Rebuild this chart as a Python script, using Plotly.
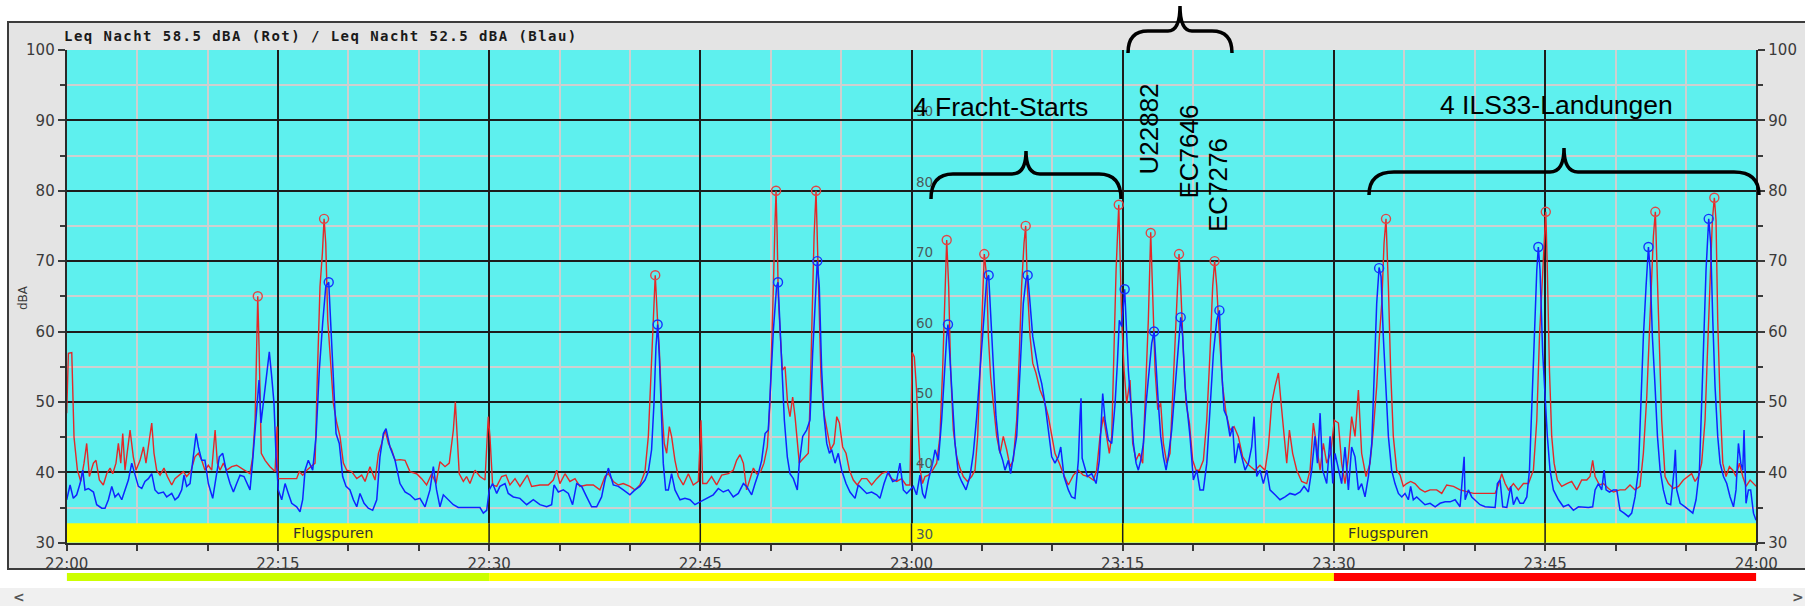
import plotly.graph_objects as go

W, H = 1805, 606

# ---------------- data (minutes after 22:00, dBA) ----------------
red_t = [0, 0.12, 0.36, 0.52, 0.76, 1.0, 1.23, 1.42, 1.61, 1.9, 2.08, 2.32, 2.6, 2.84, 3.08, 3.27, 3.5, 3.67, 3.84, 3.98,
         4.14, 4.26, 4.5, 4.73, 4.92, 5.21, 5.45, 5.63, 5.87, 6.04, 6.2, 6.39, 6.63, 6.91, 7.15, 7.46, 7.69, 8.0, 8.29, 8.52,
         8.81, 9.11, 9.35, 9.59, 9.82, 10.06, 10.3, 10.54, 10.7, 10.89, 11.13, 11.36, 11.72, 12.07, 12.43, 12.78, 13.02, 13.21,
         13.38, 13.5, 13.57, 13.66, 13.74, 13.82, 14.09, 14.44, 14.8, 14.94, 15.0, 15.39, 15.86, 16.33, 16.52, 16.76, 17.05,
         17.33, 17.64, 17.8, 17.99, 18.16, 18.28, 18.4, 18.54, 18.75, 18.94, 19.18, 19.41, 19.65, 19.89, 20.24, 20.6, 20.95,
         21.19, 21.54, 21.9, 22.14, 22.37, 22.61, 22.85, 23.08, 23.32, 23.67, 24.03, 24.38, 24.85, 25.21, 25.56, 25.92, 26.23,
         26.51, 26.87, 27.17, 27.46, 27.6, 27.74, 27.88, 28.17, 28.4, 28.64, 29.0, 29.35, 29.71, 29.94, 30.06, 30.25, 30.54,
         30.89, 31.2, 31.48, 31.84, 32.19, 32.71, 33.02, 33.61, 34.2, 34.56, 34.8, 35.03, 35.39, 35.74, 36.1, 36.45, 36.93,
         37.4, 37.87, 38.23, 38.47, 38.82, 39.18, 39.53, 40.0, 40.36, 40.71, 41.07, 41.31, 41.47, 41.66, 41.8, 41.95, 42.09,
         42.25, 42.44, 42.61, 42.8, 42.96, 43.2, 43.44, 43.79, 44.15, 44.5, 44.86, 45.05, 45.17, 45.45, 45.8, 46.16, 46.52,
         46.99, 47.34, 47.58, 47.82, 48.06, 48.29, 48.53, 48.77, 49.0, 49.29, 49.52, 49.76, 49.95, 50.07, 50.19, 50.3, 50.38,
         50.46, 50.54, 50.66, 50.83, 51.02, 51.2, 51.37, 51.56, 51.73, 51.89, 52.03, 52.2, 52.44, 52.67, 52.79, 52.91, 53.08,
         53.22, 53.34, 53.45, 53.57, 53.74, 53.93, 54.09, 54.26, 54.5, 54.69, 54.88, 55.11, 55.35, 55.59, 55.87, 56.15, 56.46,
         56.82, 57.17, 57.53, 57.88, 58.24, 58.59, 58.95, 59.3, 59.61, 59.89, 60.05, 60.2, 60.35, 60.5, 60.62, 60.78, 60.96,
         61.2, 61.5, 61.79, 62.02, 62.21, 62.38, 62.5, 62.64, 62.78, 62.97, 63.21, 63.44, 63.68, 63.97, 64.27, 64.51, 64.7,
         64.87, 65.03, 65.17, 65.34, 65.46, 65.62, 65.81, 66.05, 66.29, 66.52, 66.76, 67.0, 67.23, 67.47, 67.66, 67.82, 67.99,
         68.11, 68.23, 68.42, 68.61, 68.84, 69.13, 69.41, 69.72, 69.96, 70.19, 70.5, 70.78, 71.14, 71.5, 71.85, 72.2, 72.56,
         72.92, 73.15, 73.39, 73.63, 73.82, 74.05, 74.22, 74.38, 74.53, 74.72, 74.81, 74.93, 75.1, 75.28, 75.52, 75.71, 75.95,
         76.18, 76.42, 76.66, 76.82, 76.99, 77.13, 77.3, 77.49, 77.7, 77.89, 78.13, 78.36, 78.6, 78.79, 79.0, 79.12, 79.31,
         79.5, 79.74, 79.97, 80.21, 80.45, 80.73, 80.97, 81.2, 81.39, 81.53, 81.68, 81.87, 82.1, 82.34, 82.62, 82.91, 83.21,
         83.52, 83.81, 84.09, 84.4, 84.75, 85.11, 85.35, 85.58, 85.82, 86.06, 86.25, 86.46, 86.65, 86.84, 87.07, 87.36, 87.71,
         88.07, 88.31, 88.54, 88.78, 89.02, 89.25, 89.49, 89.77, 90.03, 90.32, 90.55, 90.79, 91.03, 91.26, 91.5, 91.74, 91.97,
         92.28, 92.57, 92.8, 93.04, 93.23, 93.4, 93.56, 93.7, 93.87, 94.03, 94.22, 94.46, 94.7, 94.93, 95.17, 95.45, 95.76,
         96.12, 96.47, 96.83, 97.3, 97.66, 98.01, 98.49, 98.96, 99.43, 99.91, 100.38, 100.85, 101.45, 101.68, 101.92, 102.16,
         102.4, 102.75, 103.1, 103.46, 103.82, 104.17, 104.41, 104.6, 104.76, 104.93, 105.05, 105.16, 105.31, 105.47, 105.64,
         105.87, 106.18, 106.54, 106.89, 107.25, 107.6, 107.96, 108.19, 108.38, 108.55, 108.86, 109.14, 109.5, 109.85, 110.32,
         110.68, 111.03, 111.39, 111.74, 111.98, 112.22, 112.41, 112.57, 112.69, 112.83, 112.98, 113.12, 113.28, 113.52,
         113.76, 114.11, 114.47, 114.82, 115.18, 115.41, 115.65, 115.89, 116.12, 116.36, 116.53, 116.72, 116.88, 117.02,
         117.14, 117.26, 117.43, 117.62, 117.85, 118.09, 118.33, 118.56, 118.8, 119.04, 119.27, 119.56, 119.8, 120.0]
red_db = [48.4, 56.9, 57.0, 45.0, 40.3, 38.7, 41.3, 44.1, 39.4, 41.3, 41.7, 38.9, 38.2, 39.8, 40.6, 39.8, 41.3, 44.1, 41.3, 45.5,
          40.3, 42.2, 46.0, 42.2, 40.3, 41.7, 43.6, 41.3, 45.0, 47.0, 42.7, 40.3, 39.6, 40.6, 39.4, 38.2, 39.1, 39.6, 40.1, 39.4,
          40.1, 42.2, 42.7, 41.7, 40.3, 41.0, 40.3, 46.0, 41.3, 40.3, 41.3, 40.3, 40.8, 41.0, 40.6, 40.1, 39.8, 42.2,
          47.4, 62.0, 65.0, 58.0, 49.0, 42.7, 41.7, 40.8, 40.1, 46.5, 39.1, 39.1, 39.1, 39.1, 40.1, 39.6, 40.3,
          40.8, 41.3, 53.6, 66.4, 71.1, 76.0, 72.5, 61.6, 55.5, 49.8, 47.0, 45.1, 41.3, 40.3, 40.1, 39.1, 39.6,
          38.7, 40.8, 38.9, 42.7, 44.1, 46.0, 44.1, 43.2, 41.7, 41.8, 41.7, 40.1, 39.8, 39.1, 38.2, 39.8, 38.4,
          41.5, 40.8, 41.3, 46.0, 50.0, 45.1, 39.8, 38.7, 39.4, 38.4, 40.3, 39.4, 38.9, 47.9, 45.1, 38.2, 38.0,
          39.4, 39.6, 38.2, 39.1, 38.0, 39.6, 38.0, 38.2, 38.2, 38.9, 40.3, 38.4, 39.8, 38.7, 39.1, 38.0, 38.2,
          38.2, 37.5, 39.4, 39.8, 38.7, 38.2, 38.4, 38.0, 37.5, 38.2, 40.1, 45.1, 52.2, 61.6, 68.0, 62.1, 57.4,
          49.8, 44.1, 42.7, 46.5, 45.1, 41.7, 39.4, 38.2, 39.8, 38.2, 38.7, 47.4, 38.4, 38.4, 39.4, 38.2, 39.6,
          39.8, 40.3, 41.7, 42.5, 41.3, 37.5, 38.9, 40.6, 39.8, 40.1, 41.3, 43.6, 49.8, 56.9, 66.4, 75.0, 80.0,
          73.5, 65.0, 60.2, 54.5, 55.0, 49.8, 47.9, 50.7, 47.9, 44.1, 41.3, 41.7, 42.2, 42.7, 49.8, 61.6, 73.5,
          80.0, 71.1, 61.6, 53.6, 48.9, 47.0, 45.1, 43.2, 44.1, 47.9, 47.0, 43.6, 42.7, 40.3, 38.9, 38.2, 39.1,
          39.1, 38.2, 39.1, 39.8, 40.1, 39.1, 38.7, 39.1, 38.2, 38.2, 57.0, 56.4, 52.0, 45.0, 40.3, 38.4, 39.4,
          39.6, 40.3, 41.3, 45.1, 54.5, 64.0, 73.0, 66.4, 54.5, 46.0, 42.2, 40.6, 39.4, 38.7, 39.4, 40.3, 45.1,
          54.5, 65.0, 71.0, 67.8, 59.3, 53.6, 49.8, 45.1, 42.7, 45.1, 43.2, 40.8, 41.7, 47.4, 56.9, 66.4, 72.5,
          75.0, 66.4, 59.3, 55.5, 54.1, 51.7, 50.3, 47.9, 45.1, 42.7, 41.3, 39.8, 38.2, 39.6, 40.3, 39.6, 39.4,
          38.9, 40.3, 45.1, 47.9, 45.5, 42.7, 45.1, 56.9, 68.7, 78.0, 71.1, 61.6, 54.5, 49.8, 53.1, 44.1, 41.7,
          42.7, 41.3, 52.2, 61.6, 74.1, 66.4, 54.5, 48.9, 49.8, 44.1, 41.3, 42.7, 52.2, 61.6, 71.0, 66.4, 57.0,
          49.8, 47.0, 41.7, 40.3, 40.3, 41.7, 47.4, 56.9, 66.4, 70.0, 66.4, 59.3, 52.2, 48.4, 46.0, 46.5, 45.1,
          42.2, 41.3, 40.8, 40.3, 41.0, 40.3, 43.6, 49.8, 52.2, 54.1, 49.8, 45.1, 41.3, 46.0, 42.7, 40.3, 38.7,
          38.4, 40.3, 47.0, 43.6, 40.3, 44.1, 41.3, 42.7, 47.4, 47.0, 41.3, 38.4, 42.2, 47.9, 45.1, 51.7, 42.7,
          39.4, 41.3, 46.0, 52.2, 59.3, 64.0, 72.5, 76.0, 66.4, 54.5, 45.1, 40.3, 39.6, 38.0, 38.4, 38.7, 38.4,
          37.6, 37.2, 37.5, 37.5, 37.0, 38.2, 38.0, 37.5, 37.2, 37.0, 37.0, 37.0, 37.0, 38.2, 39.8, 38.4,
          37.5, 38.4, 37.5, 38.4, 38.4, 40.3, 47.4, 59.3, 66.4, 73.5, 77.0, 68.7, 54.5, 45.1, 41.3,
          38.9, 38.0, 38.4, 38.7, 37.5, 38.9, 38.9, 39.4, 41.7, 39.4, 38.2, 38.4, 37.7, 37.2, 37.5,
          37.5, 38.2, 37.5, 38.0, 42.7, 50.7, 59.3, 68.7, 73.5, 77.0, 66.4, 56.9, 47.4, 39.4,
          38.4, 37.7, 38.0, 38.9, 39.4, 39.8, 38.7, 39.4, 41.3, 47.4, 56.9, 66.4, 75.8, 79.0,
          75.8, 61.6, 49.8, 41.3, 39.4, 40.8, 40.3, 39.4, 41.3, 39.4, 38.0, 38.9, 38.4, 38.0]

blue_t = [0, 0.24, 0.47, 0.71, 0.95, 1.14, 1.3, 1.54, 1.9, 2.13, 2.49, 2.72, 2.96, 3.2, 3.43, 3.67, 3.91, 4.14, 4.38, 4.62,
          4.86, 5.09, 5.33, 5.56, 5.8, 6.04, 6.27, 6.51, 6.87, 7.1, 7.46, 7.69, 7.93, 8.17, 8.33, 8.52, 8.76, 8.95, 9.19, 9.35,
          9.59, 9.82, 10.06, 10.37, 10.6, 10.84, 11.08, 11.32, 11.6, 11.84, 12.07, 12.31, 12.59, 12.83, 13.02, 13.21, 13.49,
          13.66, 13.8, 13.97, 14.2, 14.39, 14.56, 14.72, 14.87, 15.03, 15.27, 15.51, 15.74, 15.98, 16.33, 16.57, 16.76, 16.93,
          17.16, 17.47, 17.71, 17.94, 18.18, 18.4, 18.61, 18.75, 18.94, 19.13, 19.36, 19.6, 19.84, 20.12, 20.36, 20.6, 20.83,
          21.12, 21.42, 21.73, 22.02, 22.25, 22.49, 22.68, 22.96, 23.32, 23.67, 24.03, 24.38, 24.74, 25.09, 25.45, 25.8, 26.04,
          26.27, 26.51, 26.75, 27.1, 27.46, 27.81, 28.4, 29.35, 29.59, 29.83, 30.01, 30.25, 30.54, 30.77, 31.13, 31.36, 31.72,
          32.19, 32.67, 33.14, 33.61, 34.09, 34.44, 34.61, 34.92, 35.27, 35.63, 35.93, 36.22, 36.57, 36.93, 37.28, 37.64, 37.99,
          38.23, 38.47, 38.82, 39.18, 39.53, 40.0, 40.36, 40.71, 41.07, 41.31, 41.54, 41.71, 41.85, 41.97, 42.09, 42.23, 42.37,
          42.54, 42.73, 42.96, 43.2, 43.56, 43.91, 44.27, 44.62, 44.98, 45.45, 45.92, 46.28, 46.63, 46.99, 47.34, 47.7, 48.06,
          48.29, 48.65, 48.89, 49.12, 49.36, 49.6, 49.83, 50.0, 50.19, 50.42, 50.52, 50.61, 50.78, 50.97, 51.18, 51.37, 51.61,
          51.89, 52.03, 52.27, 52.55, 52.79, 52.98, 53.15, 53.31, 53.45, 53.62, 53.79, 53.98, 54.17, 54.33, 54.57, 54.8, 55.04,
          55.35, 55.63, 55.99, 56.22, 56.46, 56.82, 57.17, 57.53, 57.76, 58.05, 58.35, 58.66, 58.95, 59.18, 59.42, 59.66,
          59.89, 60.13, 60.36, 60.6, 60.79, 60.96, 61.2, 61.5, 61.67, 61.91, 62.14, 62.38, 62.5, 62.59, 62.73, 62.92, 63.09,
          63.33, 63.56, 63.87, 64.15, 64.39, 64.63, 64.87, 65.1, 65.34, 65.48, 65.62, 65.81, 66.0, 66.24, 66.48, 66.64, 66.88,
          67.04, 67.23, 67.47, 67.71, 67.94, 68.13, 68.25, 68.42, 68.61, 68.77, 69.01, 69.25, 69.48, 69.72, 69.96, 70.19,
          70.43, 70.6, 70.83, 71.14, 71.37, 71.61, 71.85, 71.97, 72.04, 72.12, 72.49, 72.8, 73.11, 73.34, 73.58, 73.75, 73.98,
          74.22, 74.46, 74.62, 74.76, 74.93, 75.14, 75.24, 75.4, 75.57, 75.76, 75.95, 76.11, 76.28, 76.47, 76.66, 76.82, 77.06,
          77.23, 77.37, 77.53, 77.7, 77.89, 78.08, 78.24, 78.48, 78.72, 78.95, 79.12, 79.26, 79.43, 79.59, 79.78, 80.02, 80.26,
          80.49, 80.73, 80.97, 81.2, 81.44, 81.68, 81.87, 82.03, 82.2, 82.39, 82.62, 82.81, 82.98, 83.22, 83.45, 83.69, 83.93,
          84.16, 84.33, 84.52, 84.75, 84.99, 85.23, 85.46, 85.82, 86.17, 86.53, 86.88, 87.24, 87.6, 87.88, 88.19, 88.42, 88.66,
          88.83, 89.02, 89.2, 89.49, 89.73, 89.92, 90.08, 90.32, 90.55, 90.79, 91.03, 91.26, 91.5, 91.74, 91.97, 92.21, 92.45,
          92.69, 92.87, 93.04, 93.21, 93.35, 93.51, 93.7, 93.87, 94.1, 94.34, 94.58, 94.82, 95.05, 95.29, 95.45, 95.64, 95.88,
          96.12, 96.47, 96.83, 97.19, 97.54, 97.9, 98.25, 98.61, 98.96, 99.15, 99.25, 99.32, 99.55, 99.79, 100.03, 100.38,
          100.74, 101.09, 101.45, 101.61, 101.8, 101.99, 102.28, 102.56, 102.75, 102.99, 103.22, 103.46, 103.7, 103.89,
          104.05, 104.22, 104.41, 104.52, 104.64, 104.83, 105.0, 105.16, 105.35, 105.59, 105.95, 106.3, 106.66, 107.01,
          107.37, 107.72, 108.08, 108.38, 108.55, 108.79, 109.02, 109.19, 109.33, 109.57, 109.85, 110.09, 110.32, 110.61,
          110.92, 111.15, 111.39, 111.63, 111.79, 111.98, 112.17, 112.34, 112.46, 112.62, 112.81, 112.98, 113.17, 113.4,
          113.64, 113.92, 114.16, 114.25, 114.35, 114.59, 114.94, 115.25, 115.49, 115.72, 115.96, 116.12, 116.29, 116.43,
          116.62, 116.76, 116.91, 117.07, 117.26, 117.43, 117.67, 117.9, 118.14, 118.38, 118.56, 118.73, 118.9, 119.04,
          119.13, 119.27, 119.44, 119.6, 119.8, 119.98]
blue_db = [36.1, 38.2, 36.3, 36.8, 38.4, 40.3, 37.5, 37.7, 37.2, 35.4, 34.9, 34.9, 36.1, 38.0, 36.5, 37.0, 36.1, 37.5, 38.9, 41.3,
           39.4, 38.0, 37.7, 38.7, 39.1, 39.8, 37.5, 37.0, 37.2, 36.5, 37.0, 36.1, 36.5, 37.5, 39.6, 38.0, 38.4, 41.3, 45.5, 43.6,
           41.7, 41.7, 38.4, 36.3, 38.9, 42.2, 42.7, 40.3, 38.4, 37.2, 38.4, 39.6, 39.4, 38.2, 37.5, 41.7, 48.8,
           53.1, 47.0, 49.9, 54.5, 57.1, 53.6, 49.9, 42.2, 37.5, 36.1, 38.4, 37.0, 35.6, 35.1, 34.4, 36.1, 40.3,
           41.7, 40.3, 45.1, 54.5, 61.2, 66.4, 67.0, 61.6, 52.2, 45.5, 44.1, 39.4, 38.0, 37.5, 36.1, 35.1, 37.0,
           35.6, 34.9, 34.6, 36.1, 42.2, 45.5, 46.2, 43.6, 41.7, 38.4, 37.2, 36.8, 36.1, 36.3, 35.1, 37.5, 40.8,
           37.5, 35.1, 36.8, 36.1, 35.4, 35.0, 35.0, 35.0, 34.2, 34.6, 37.5, 38.4, 37.0, 38.0, 38.4, 37.0, 36.5,
           36.3, 35.4, 36.1, 35.4, 35.1, 35.4, 38.2, 37.2, 37.5, 37.0, 35.4, 38.4, 38.0, 36.5, 35.1, 35.1, 36.5,
           38.9, 40.6, 38.2, 38.0, 37.5, 36.8, 37.5, 38.0, 38.9, 40.1, 43.2, 49.8, 57.8, 61.0, 56.4, 49.8, 41.3,
           37.5, 37.5, 39.8, 37.5, 36.1, 36.3, 36.1, 35.4, 35.8, 36.3, 36.8, 37.7, 37.2, 37.5, 36.5, 37.0, 38.4,
           38.0, 36.8, 38.4, 39.8, 41.7, 45.5, 46.0, 52.2, 60.2, 66.4, 67.0, 63.0, 54.5, 47.4, 42.2, 39.8, 39.1,
           37.5, 41.3, 45.1, 46.0, 47.4, 56.9, 64.0, 70.0, 66.4, 54.5, 47.9, 44.1, 42.7, 43.2, 41.3, 42.7, 40.3,
           38.4, 37.2, 36.3, 38.2, 37.7, 37.0, 37.2, 36.8, 36.3, 38.4, 40.1, 38.7, 38.9, 41.3, 37.5, 37.0,
           37.5, 38.0, 36.8, 39.6, 37.0, 36.3, 38.9, 41.3, 43.2, 41.7, 47.4, 55.9, 59.3, 61.0, 56.9, 49.8, 44.1,
           39.8, 38.7, 37.5, 39.4, 42.7, 47.9, 54.5, 61.6, 67.4, 68.0, 63.0, 54.5, 47.9, 43.2, 41.7, 40.3, 41.7,
           39.8, 42.2, 45.1, 54.5, 64.0, 67.3, 68.0, 64.0, 59.3, 57.4, 54.5, 52.6, 49.8, 46.0, 42.2, 41.3,
           42.2, 43.6, 39.4, 37.5, 36.5, 36.3, 41.7, 48.0, 50.5, 42.0, 39.4, 39.8, 38.4, 41.7, 51.2, 47.4, 44.6,
           44.1, 49.8, 55.5, 61.6, 60.7, 66.0, 61.6, 54.5, 49.8, 44.1, 41.3, 40.3, 41.7, 44.1, 49.8, 53.6, 58.3,
           60.0, 54.5, 49.8, 45.1, 42.2, 40.3, 42.2, 46.0, 52.2, 58.3, 62.0, 59.3, 52.2, 48.8, 45.1, 38.9, 40.3,
           37.5, 37.5, 41.3, 49.8, 56.9, 61.6, 63.0, 54.5, 48.8, 47.9, 45.1, 46.5, 41.3, 44.1, 42.2, 40.3, 41.3,
           43.6, 47.9, 39.4, 40.3, 38.4, 40.3, 37.5, 36.8, 36.1, 36.5, 37.0, 36.8, 37.2, 38.0, 37.2, 40.3, 45.1,
           41.3, 48.4, 40.3, 38.4, 45.1, 38.4, 42.7, 40.3, 38.4, 43.6, 37.5, 43.6, 42.2, 37.5, 38.4, 36.5, 39.4,
           44.1, 54.5, 64.0, 69.1, 67.8, 59.3, 50.7, 45.1, 40.3, 38.4, 37.0, 36.5, 37.0, 36.1, 38.0, 36.1, 36.5,
           36.1, 35.4, 35.6, 35.1, 35.6, 35.8, 35.8, 36.1, 35.1, 40.3, 42.2, 36.1, 37.5, 36.5, 36.1, 35.4,
           35.1, 35.1, 35.0, 38.4, 38.9, 35.1, 35.0, 38.0, 35.4, 36.5, 35.6, 35.6, 36.5, 40.3,
           49.8, 59.3, 68.7, 72.0, 68.7, 56.9, 49.8, 45.1, 40.3, 37.5, 36.1, 35.1, 35.4, 34.6,
           35.1, 35.0, 35.0, 35.1, 37.5, 38.4, 37.5, 40.3, 37.5, 37.2, 37.5, 37.5, 34.6, 34.2,
           33.7, 34.2, 36.5, 40.3, 49.8, 59.3, 66.4, 72.0, 68.7, 59.3, 52.2, 45.1, 40.3, 37.5,
           35.6, 35.4, 40.3, 43.2, 37.5, 35.6, 35.1, 34.6, 34.2, 36.1, 40.3, 49.8, 59.3, 68.7,
           76.0, 72.5, 61.6, 52.2, 45.1, 41.3, 39.4, 38.4, 36.5, 35.1, 37.5, 44.1, 41.3, 40.3,
           46.0, 35.6, 37.5, 37.5, 34.2, 33.2]

red_peak_t = [13.57, 18.28, 41.8, 50.38, 53.22, 62.5, 65.17, 68.11, 74.72, 76.99, 79.0, 81.53, 93.7, 105.05, 112.83, 117.02]
red_peak_db = [65, 76, 68, 80, 80, 73, 71, 75, 78, 74, 71, 70, 76, 77, 77, 79]
blue_peak_t = [18.61, 41.97, 50.52, 53.31, 62.59, 65.48, 68.25, 75.14, 77.23, 79.12, 81.87, 93.21, 104.52, 112.34, 116.62]
blue_peak_db = [67, 61, 67, 70, 61, 68, 68, 66, 60, 62, 63, 69, 72, 72, 76]

tick_minutes = [0, 15, 30, 45, 60, 75, 90, 105, 120]
tick_labels = ["22:00", "22:15", "22:30", "22:45", "23:00", "23:15", "23:30", "23:45", "24:00"]
y_ticks = [30, 40, 50, 60, 70, 80, 90, 100]

band_top = 32.76                      # "Flugspuren" band
flug_label_t = [18.9, 93.85]
period_start = [0, 30, 90]            # bottom colour bar
period_end = [30, 90, 120]
period_color = ["#ccff00", "#ffff00", "#ff0000"]

title = "Leq Nacht 58.5 dBA (Rot) / Leq Nacht 52.5 dBA (Blau)"

# ---------------- geometry helpers ----------------
def PX(x):
    return x / W

def PY(y):
    return 1 - y / H

x_dom = [PX(66.7), PX(1756.3)]
y_dom = [PY(542.7), PY(49.9)]

CYAN = "#5ef0ee"
GRID_MAJOR = "#1c1c1c"
GRID_MINOR = "#cfcfcf"
TICKC = "#3a3a3a"

fig = go.Figure()

# yellow band (drawn as trace so it hides minor grid)
fig.add_trace(go.Scatter(x=[0, 120, 120, 0, 0], y=[30, 30, band_top, band_top, 30], fill="toself",
                         fillcolor="#ffff00", line=dict(width=0), mode="lines", hoverinfo="skip", showlegend=False))
# major vertical grid lines across the band
vx, vy = [], []
for t in tick_minutes[1:-1]:
    vx += [t, t, None]
    vy += [30, band_top, None]
fig.add_trace(go.Scatter(x=vx, y=vy, mode="lines", line=dict(color=GRID_MAJOR, width=1.5),
                         hoverinfo="skip", showlegend=False))

fig.add_trace(go.Scatter(x=red_t, y=red_db, mode="lines", line=dict(color="rgb(228,40,40)", width=1.4),
                         showlegend=False))
fig.add_trace(go.Scatter(x=blue_t, y=blue_db, mode="lines", line=dict(color="rgb(15,35,255)", width=1.5),
                         showlegend=False))
fig.add_trace(go.Scatter(x=red_peak_t, y=red_peak_db, mode="markers",
                         marker=dict(symbol="circle-open", size=9, color="rgb(225,70,70)", line=dict(width=1.4)),
                         showlegend=False))
fig.add_trace(go.Scatter(x=blue_peak_t, y=blue_peak_db, mode="markers",
                         marker=dict(symbol="circle-open", size=9, color="rgb(20,50,255)", line=dict(width=1.4)),
                         showlegend=False))
# invisible trace for right axis
fig.add_trace(go.Scatter(x=[0], y=[30], yaxis="y2", mode="markers", marker=dict(opacity=0),
                         hoverinfo="skip", showlegend=False))

tickfont = dict(family="DejaVu Sans", size=15, color=TICKC)

fig.update_layout(
    width=W, height=H, autosize=False,
    margin=dict(l=0, r=0, t=0, b=0, autoexpand=False),
    paper_bgcolor="white", plot_bgcolor="rgba(0,0,0,0)",
    xaxis=dict(domain=x_dom, range=[0, 120], tickmode="array", tickvals=tick_minutes, ticktext=tick_labels,
               automargin=False,
               showgrid=True, gridcolor=GRID_MAJOR, gridwidth=1.5, zeroline=False,
               ticks="outside", ticklen=6, tickwidth=1.5, tickcolor=TICKC,
               showline=True, linecolor="#2a2a2a", linewidth=2,
               minor=dict(tickmode="linear", tick0=0, dtick=5, showgrid=True, gridcolor=GRID_MINOR, gridwidth=1.5,
                          ticks="outside", ticklen=6, tickwidth=1.5, tickcolor=TICKC),
               tickfont=tickfont, fixedrange=True),
    yaxis=dict(domain=y_dom, range=[30, 100], tickmode="array", tickvals=y_ticks, automargin=False,
               showgrid=True, gridcolor=GRID_MAJOR, gridwidth=1.5, zeroline=False,
               ticks="outside", ticklen=7, tickwidth=1.5, tickcolor=TICKC,
               showline=True, linecolor="#2a2a2a", linewidth=2,
               minor=dict(tickmode="linear", tick0=30, dtick=5, showgrid=True, gridcolor=GRID_MINOR, gridwidth=1.5,
                          ticks="outside", ticklen=5, tickwidth=1.5, tickcolor=TICKC),
               tickfont=tickfont, fixedrange=True),
    yaxis2=dict(overlaying="y", side="right", anchor="x", range=[30, 100], tickmode="array", tickvals=y_ticks,
                automargin=False,
                showgrid=False, zeroline=False, ticks="outside", ticklen=7, tickwidth=1.5, tickcolor=TICKC,
                showline=True, linecolor="#2a2a2a", linewidth=2,
                minor=dict(tickmode="linear", tick0=30, dtick=5, ticks="outside", ticklen=5, tickwidth=1.5,
                           tickcolor=TICKC),
                tickfont=tickfont, fixedrange=True),
)

shapes = []
# grey panel
shapes.append(dict(type="rect", xref="paper", yref="paper", x0=PX(8), x1=PX(1812), y0=PY(569), y1=PY(22),
                   fillcolor="#e4e4e4", line=dict(color="#3c3c3c", width=2), layer="below"))
# cyan plot background (on top of the panel)
shapes.append(dict(type="rect", xref="paper", yref="paper", x0=x_dom[0], x1=x_dom[1], y0=y_dom[0], y1=y_dom[1],
                   fillcolor=CYAN, line=dict(width=0), layer="below"))
# scrollbar strip
shapes.append(dict(type="rect", xref="paper", yref="paper", x0=0, x1=1, y0=0, y1=PY(588),
                   fillcolor="#f0f0f0", line=dict(width=0), layer="below"))
# period colour bar
for s, e, c in zip(period_start, period_end, period_color):
    shapes.append(dict(type="rect", xref="x", yref="paper", x0=s, x1=e, y0=PY(581), y1=PY(573),
                       fillcolor=c, line=dict(width=0), layer="above"))


def brace(x0, x1, xc, y_end, y_flat, y_tip, r, t):
    p = (f"M {PX(x0)},{PY(y_end)} Q {PX(x0)},{PY(y_flat)} {PX(x0 + r)},{PY(y_flat)} "
         f"L {PX(xc - t)},{PY(y_flat)} Q {PX(xc)},{PY(y_flat)} {PX(xc)},{PY(y_tip)} "
         f"Q {PX(xc)},{PY(y_flat)} {PX(xc + t)},{PY(y_flat)} "
         f"L {PX(x1 - r)},{PY(y_flat)} Q {PX(x1)},{PY(y_flat)} {PX(x1)},{PY(y_end)}")
    return dict(type="path", xref="paper", yref="paper", path=p, line=dict(color="black", width=3.5),
                layer="above")


shapes.append(brace(931, 1121, 1026, 199, 174, 151, 22, 14))
shapes.append(brace(1128, 1232, 1180, 53, 31, 6, 20, 12))
shapes.append(brace(1369, 1759, 1564, 195, 172, 148, 25, 14))
fig.update_layout(shapes=shapes)


def pann(x, y, text, font, **kw):
    d = dict(xref="paper", yref="paper", x=PX(x), y=PY(y), text=text, showarrow=False, font=font,
             xanchor="center", yanchor="middle")
    d.update(kw)
    return d


ann = []
ann.append(pann(62, 36, f"<b><span style='letter-spacing:1.45px'>{title}</span></b>",
                dict(family="DejaVu Sans Mono", size=14, color="#1a1a1a"), xanchor="left"))
ann.append(pann(23, 298, "dBA", dict(family="DejaVu Sans", size=12, color=TICKC), textangle=-90))
for t in flug_label_t:
    ann.append(dict(xref="x", yref="y", x=t, y=(30 + band_top) / 2, text="Flugspuren", showarrow=False,
                    xanchor="center", yanchor="middle",
                    font=dict(family="DejaVu Sans", size=14.5, color="#333333")))
for v in y_ticks[:-1]:
    ann.append(dict(xref="x", yref="y", x=60, y=v, xanchor="left", yanchor="bottom", xshift=2, yshift=-1,
                    text=str(v), showarrow=False, font=dict(family="DejaVu Sans", size=13.5, color="#4a5a5a")))
big = dict(family="Liberation Sans, Arial", size=26.5, color="black")
ann.append(pann(1000, 107, "4 Fracht-Starts", big))
ann.append(pann(1556, 105, "4 ILS33-Landungen", big))
for txt, cx, cy in [("U22882", 1148.5, 129), ("EC7646", 1188, 151.5), ("EC7276", 1217.5, 185.5)]:
    ann.append(pann(cx, cy, txt, dict(family="Liberation Sans, Arial", size=26, color="black"), textangle=-90))
ann.append(pann(19, 597, "<b>&lt;</b>", dict(family="DejaVu Sans", size=14, color="#555555")))
ann.append(pann(1798, 597, "<b>&gt;</b>", dict(family="DejaVu Sans", size=14, color="#555555")))
fig.update_layout(annotations=ann)

fig.write_html("out.html", config={"displayModeBar": False},
               post_script="document.body.style.margin='0';document.body.style.padding='0';")
